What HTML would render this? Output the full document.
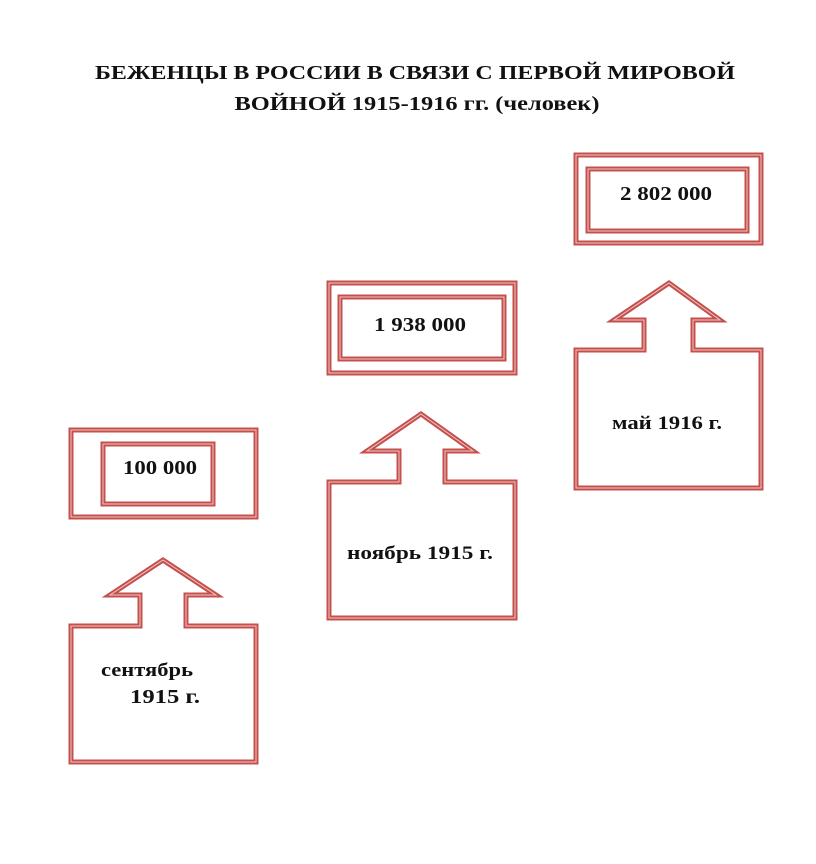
<!DOCTYPE html>
<html><head><meta charset="utf-8"><style>
html,body{margin:0;padding:0;background:#fff;}
svg{display:block;}
text{font-family:"Liberation Serif",serif;font-weight:bold;fill:#111;}
</style></head><body>
<svg width="816" height="864" viewBox="0 0 816 864" xmlns="http://www.w3.org/2000/svg">
<text x="415" y="79" font-size="20" text-anchor="middle" textLength="640" lengthAdjust="spacingAndGlyphs">БЕЖЕНЦЫ В РОССИИ В СВЯЗИ С ПЕРВОЙ МИРОВОЙ</text>
<text x="417" y="110" font-size="20" text-anchor="middle" textLength="365" lengthAdjust="spacingAndGlyphs">ВОЙНОЙ 1915-1916 гг. (человек)</text>

<g fill="none" stroke="#c4504d" stroke-width="5" stroke-linejoin="miter">
  <rect x="71" y="430" width="185" height="87"/>
  <rect x="103" y="444" width="110" height="60"/>
  <path d="M71 626 H140 V595 H110 L163 560 L216 595 H186 V626 H256 V762 H71 Z"/>
  <rect x="329" y="283" width="186" height="90"/>
  <rect x="340" y="297" width="164" height="62"/>
  <path d="M329 482 H399 V451 H367 L421 414 L473 451 H445 V482 H515 V618 H329 Z"/>
  <rect x="576" y="155" width="185" height="88"/>
  <rect x="588" y="169" width="159" height="62"/>
  <path d="M576 350 H644 V320 H614 L669 283 L720 320 H693 V350 H761 V488 H576 Z"/>
</g>
<g fill="none" stroke="#f2c4c2" stroke-width="1">
  <rect x="71" y="430" width="185" height="87"/>
  <rect x="103" y="444" width="110" height="60"/>
  <path d="M71 626 H140 V595 H110 L163 560 L216 595 H186 V626 H256 V762 H71 Z"/>
  <rect x="329" y="283" width="186" height="90"/>
  <rect x="340" y="297" width="164" height="62"/>
  <path d="M329 482 H399 V451 H367 L421 414 L473 451 H445 V482 H515 V618 H329 Z"/>
  <rect x="576" y="155" width="185" height="88"/>
  <rect x="588" y="169" width="159" height="62"/>
  <path d="M576 350 H644 V320 H614 L669 283 L720 320 H693 V350 H761 V488 H576 Z"/>
</g>

<text x="160" y="474" font-size="20" text-anchor="middle" textLength="74" lengthAdjust="spacingAndGlyphs">100 000</text>
<text x="420" y="331" font-size="20" text-anchor="middle" textLength="92" lengthAdjust="spacingAndGlyphs">1 938 000</text>
<text x="666" y="200" font-size="20" text-anchor="middle" textLength="92" lengthAdjust="spacingAndGlyphs">2 802 000</text>

<text x="147" y="676" font-size="19" text-anchor="middle" textLength="92" lengthAdjust="spacingAndGlyphs">сентябрь</text>
<text x="165" y="703" font-size="20" text-anchor="middle" textLength="70" lengthAdjust="spacingAndGlyphs">1915 г.</text>
<text x="420" y="559" font-size="19" text-anchor="middle" textLength="146" lengthAdjust="spacingAndGlyphs">ноябрь 1915 г.</text>
<text x="667" y="429" font-size="19" text-anchor="middle" textLength="110" lengthAdjust="spacingAndGlyphs">май 1916 г.</text>
</svg>
</body></html>
